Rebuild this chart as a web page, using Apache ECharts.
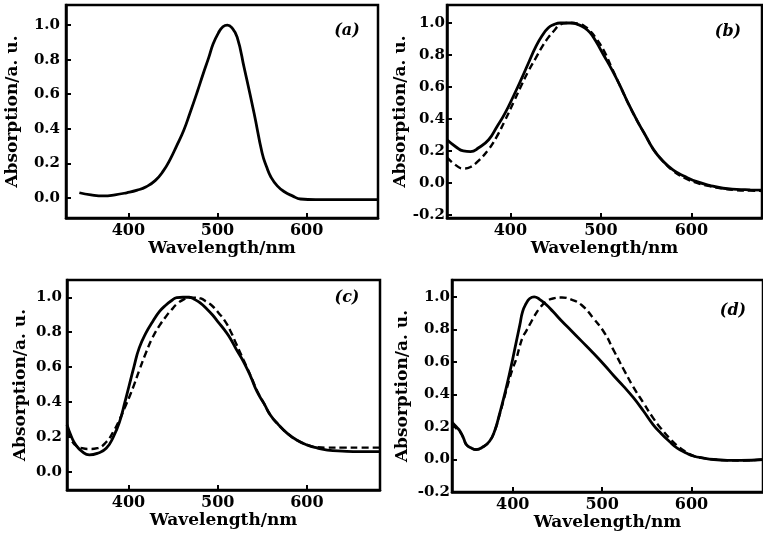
<!DOCTYPE html>
<html><head><meta charset="utf-8">
<script src="https://cdn.jsdelivr.net/npm/echarts@6/dist/echarts.min.js"></script>
<style>html,body{margin:0;padding:0;background:#fff}#c{width:763px;height:542px}</style>
</head><body><div id="c"></div>
<script>
// ---- data (wavelength nm / normalised absorption) ----
const aX = [345,358,372,385,398,410,420,430,439,447,454,462,469,477,484,490,495,501,506,511,516,522,530,541,550,555,560,567,575,584,593,610,640,680];
const aY = [0.03,0.018,0.012,0.018,0.03,0.045,0.065,0.10,0.155,0.225,0.30,0.39,0.49,0.61,0.72,0.81,0.89,0.955,0.99,1.0,0.985,0.93,0.75,0.49,0.26,0.18,0.12,0.07,0.036,0.012,-0.006,-0.01,-0.01,-0.01];

const bX = [330,340,348,356,365,376,385,394,404,413,420,428,435,442,448,455,462,468,475,482,488,494,503,512,521,530,540,549,558,568,580,593,606,620,635,650,665,678];
const bSolid = [0.27,0.225,0.20,0.196,0.22,0.27,0.35,0.435,0.55,0.66,0.75,0.85,0.92,0.97,0.99,1.0,1.0,1.0,0.99,0.97,0.94,0.89,0.80,0.71,0.61,0.50,0.39,0.30,0.21,0.14,0.08,0.04,0.008,-0.015,-0.033,-0.04,-0.043,-0.045];
const bDashed = [0.16,0.11,0.09,0.10,0.14,0.21,0.29,0.39,0.51,0.62,0.70,0.78,0.85,0.91,0.95,0.99,1.0,1.0,0.995,0.98,0.95,0.91,0.83,0.72,0.61,0.50,0.39,0.30,0.21,0.14,0.075,0.03,0.0,-0.02,-0.035,-0.045,-0.048,-0.05];

const cX = [331,336,341,348,356,365,375,383,390,396,401,406,412,420,427,435,442,448,454,461,468,475,481,487,494,501,508,514,521,529,537,544,552,559,568,578,589,600,612,623,640,660,682];
const cSolid = [0.27,0.20,0.153,0.115,0.096,0.105,0.134,0.20,0.287,0.40,0.50,0.60,0.71,0.80,0.86,0.92,0.956,0.98,0.998,1.0,1.0,0.985,0.965,0.937,0.90,0.855,0.81,0.765,0.70,0.63,0.545,0.46,0.39,0.325,0.27,0.22,0.18,0.153,0.135,0.124,0.118,0.115,0.115];
const cDashed = [0.23,0.18,0.15,0.135,0.13,0.135,0.17,0.23,0.30,0.37,0.43,0.495,0.58,0.688,0.77,0.84,0.89,0.927,0.96,0.985,0.998,0.998,0.993,0.975,0.95,0.91,0.865,0.81,0.73,0.64,0.55,0.465,0.39,0.325,0.27,0.22,0.18,0.155,0.14,0.138,0.138,0.138,0.138];

const dX = [332,337,341,345,348,353,359,366,374,380,385,390,396,400,404,408,411,415,419,424,430,437,445,455,465,477,490,503,513,524,535,546,557,566,575,584,594,603,612,625,640,655,680];
const dSolid = [0.23,0.20,0.174,0.13,0.092,0.072,0.061,0.075,0.112,0.18,0.276,0.38,0.52,0.62,0.726,0.83,0.91,0.96,0.99,1.0,0.985,0.955,0.91,0.85,0.795,0.728,0.655,0.578,0.515,0.45,0.38,0.30,0.215,0.16,0.112,0.07,0.04,0.02,0.01,0.0,-0.005,-0.006,0.0];
const dDashed = [0.22,0.19,0.17,0.13,0.092,0.072,0.061,0.075,0.112,0.18,0.27,0.37,0.49,0.56,0.62,0.70,0.75,0.79,0.83,0.88,0.93,0.97,0.99,0.996,0.985,0.95,0.87,0.775,0.67,0.555,0.445,0.35,0.256,0.19,0.133,0.085,0.045,0.02,0.01,0.0,-0.005,-0.006,0.0];

const xTicks = [400,500,600];
const yTicksPos = [0,0.2,0.4,0.6,0.8,1.0];
const yTicksNeg = [-0.2,0,0.2,0.4,0.6,0.8,1.0];
const panelLabels = ['(a)','(b)','(c)','(d)'];
const xTitle = 'Wavelength/nm';
const yTitle = 'Absorption/a. u.';

// ---- layout ----
const FONT = '"DejaVu Serif", serif';
const grids = [
  {left:66, top:5, width:312, height:213},
  {left:447, top:5, width:315, height:213},
  {left:67, top:280, width:313, height:210},
  {left:452, top:280, width:314, height:212}
];
const xRanges = [[330,680],[330,678],[331,682],[332,680]];
const yRanges = [[-0.116,1.116],[-0.219,1.1125],[-0.105,1.099],[-0.2,1.104]];
const yTickSets = [yTicksPos, yTicksNeg, yTicksPos, yTicksNeg];
const yLabelMargin = [6,2,5,2];
const yNameGap = [45,37,38,41];
const labelPos = [[347,31],[728,32],[347,298],[733,311]];

const pair = (xs, ys) => xs.map((x,i)=>[x, ys[i]]);
const seriesData = [
  [pair(aX,aY)],
  [pair(bX,bSolid), pair(bX,bDashed)],
  [pair(cX,cSolid), pair(cX,cDashed)],
  [pair(dX,dSolid), pair(dX,dDashed)]
];

const option = {
  animation:false,
  backgroundColor:'#fff',
  grid: grids.map(g=>Object.assign({show:true, borderColor:'#000', borderWidth:2.5, backgroundColor:'transparent', containLabel:false}, g)),
  xAxis: grids.map((g,i)=>({
    type:'value', gridIndex:i, min:xRanges[i][0], max:xRanges[i][1],
    name:xTitle, nameLocation:'middle', nameGap:17,
    nameTextStyle:{fontFamily:FONT, fontWeight:'bold', fontSize:17, color:'#000'},
    axisLine:{show:true, onZero:false, lineStyle:{color:'#000', width:2.5}},
    axisTick:{show:true, inside:true, length:5, lineStyle:{color:'#000', width:2}, customValues:xTicks},
    axisLabel:{customValues:xTicks, fontFamily:FONT, fontWeight:'bold', fontSize:16, color:'#000', margin:5},
    splitLine:{show:false}
  })),
  yAxis: grids.map((g,i)=>({
    type:'value', gridIndex:i, min:yRanges[i][0], max:yRanges[i][1],
    name:yTitle, nameLocation:'middle', nameRotate:90, nameGap:yNameGap[i],
    nameTextStyle:{fontFamily:FONT, fontWeight:'bold', fontSize:17, color:'#000'},
    axisLine:{show:true, onZero:false, lineStyle:{color:'#000', width:2.5}},
    axisTick:{show:true, inside:true, length:5, lineStyle:{color:'#000', width:2}, customValues:yTickSets[i]},
    axisLabel:{customValues:yTickSets[i], fontFamily:FONT, fontWeight:'bold', fontSize:15, color:'#000', margin:yLabelMargin[i],
      formatter:v=>Number(v).toFixed(1)},
    splitLine:{show:false}
  })),
  series: [],
  graphic: panelLabels.map((t,i)=>({
    type:'text', x:labelPos[i][0], y:labelPos[i][1],
    style:{text:t, font:'italic bold 16px "DejaVu Serif"', fill:'#000', textAlign:'center', textVerticalAlign:'middle'}
  }))
};
seriesData.forEach((list,i)=>{
  list.forEach((d,k)=>{
    option.series.push({
      type:'line', xAxisIndex:i, yAxisIndex:i, data:d, showSymbol:false, smooth:0.5,
      lineStyle:{color:'#000', width:k===0?2.8:2.4, type:k===0?'solid':[7,4]},
      z: k===0?3:2
    });
  });
});
const chart = echarts.init(document.getElementById('c'), null, {renderer:'canvas'});
chart.setOption(option);
</script>
</body></html>
